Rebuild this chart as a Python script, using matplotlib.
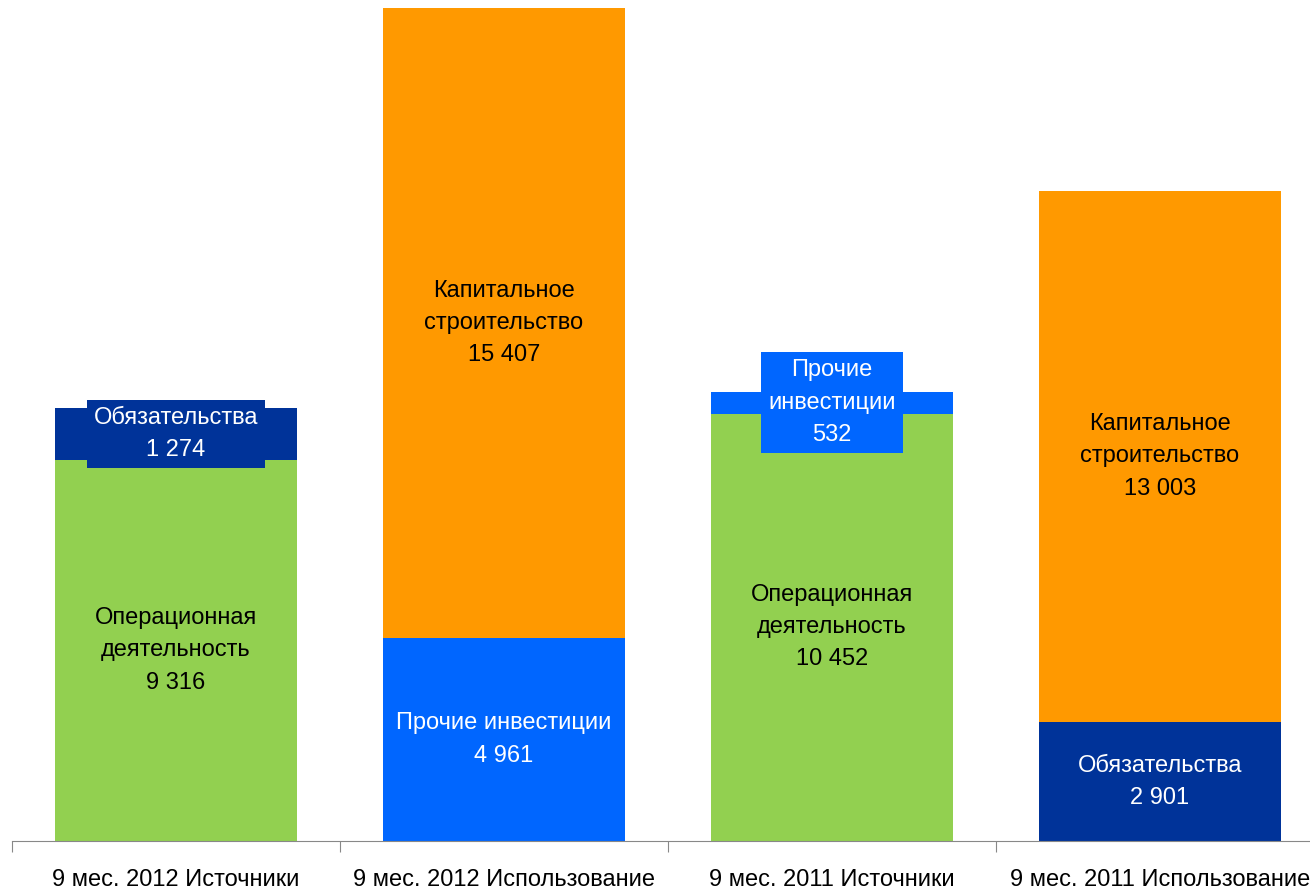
import numpy as np
import matplotlib.pyplot as plt
from matplotlib import font_manager

# данные
categories = ['9 мес. 2012 Источники', '9 мес. 2012 Использование',
              '9 мес. 2011 Источники', '9 мес. 2011 Использование']
bottom_vals = [9316, 4961, 10452, 2901]
top_vals = [1274, 15407, 532, 13003]
bottom_names = ['Операционная\nдеятельность', 'Прочие инвестиции',
                'Операционная\nдеятельность', 'Обязательства']
top_names = ['Обязательства', 'Капитальное\nстроительство',
             'Прочие\nинвестиции', 'Капитальное\nстроительство']
bottom_colors = ['#92D050', '#0066FF', '#92D050', '#003399']
top_colors = ['#003399', '#FF9900', '#0066FF', '#FF9900']
top_boxed = [True, False, True, False]

names = {f.name for f in font_manager.fontManager.ttflist}
fam = 'Liberation Sans Narrow' if 'Liberation Sans Narrow' in names else 'Liberation Sans'
plt.rcParams['font.family'] = [fam, 'DejaVu Sans']


def fmt(v):
    return f'{v:,}'.replace(',', ' ')


fig = plt.figure(figsize=(13.1, 8.93), dpi=100)
ax = fig.add_axes([12 / 1310, 52 / 893, 1312 / 1310, 833 / 893])

x = np.arange(len(categories))
w = 0.74
ax.bar(x, bottom_vals, w, color=bottom_colors)
ax.bar(x, top_vals, w, bottom=bottom_vals, color=top_colors)

fs = 17
ls = 1.6
for i in range(len(categories)):
    b, t = bottom_vals[i], top_vals[i]
    ax.text(x[i], b / 2, bottom_names[i] + '\n' + fmt(b), ha='center', va='center',
            fontsize=fs, linespacing=ls,
            color='black' if bottom_colors[i] == '#92D050' else 'white')
    if top_boxed[i]:
        ax.text(x[i], b + t / 2, top_names[i] + '\n' + fmt(t), ha='center', va='center',
                fontsize=fs, linespacing=ls, color='white',
                bbox=dict(boxstyle='square,pad=0.3', fc=top_colors[i], ec='none'))
    else:
        ax.text(x[i], b + t / 2, top_names[i] + '\n' + fmt(t), ha='center', va='center',
                fontsize=fs, linespacing=ls, color='black')

ax.set_xlim(-0.5, len(categories) - 0.5)
ax.set_ylim(0, 20368)
for s in ['top', 'right', 'left']:
    ax.spines[s].set_visible(False)
ax.spines['bottom'].set_color('#888888')
ax.set_yticks([])
ax.set_xticks(x - 0.5, minor=False)
ax.set_xticklabels([])
ax.tick_params(axis='x', length=8, color='#888888', direction='out')
ax.set_xticks(x, minor=True)
ax.set_xticklabels(categories, minor=True, fontsize=fs)
ax.tick_params(axis='x', which='minor', length=0, pad=28, labelsize=fs)
for lab in ax.get_xticklabels(minor=True):
    lab.set_verticalalignment('center')

fig.savefig('out.png', dpi=100)
